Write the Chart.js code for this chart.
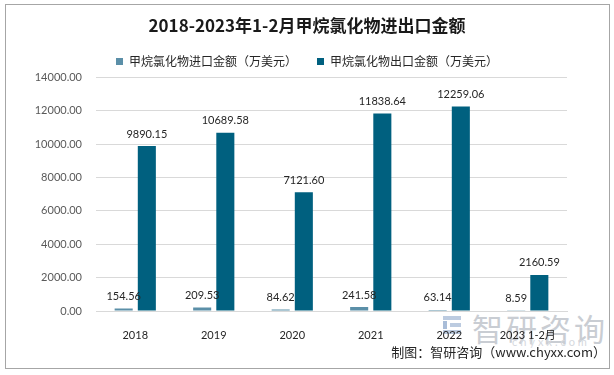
<!DOCTYPE html>
<html>
<head>
<meta charset="utf-8">
<script src="https://cdn.jsdelivr.net/npm/chart.js@4"></script>
<style>
  body { margin: 0; background: #fff; }
  #wrap { position: relative; width: 614px; height: 375px; }
  #frame { position: absolute; left: 5px; top: 4px; width: 603px; height: 363px; border: 1px solid #a6a6a6; }
  #mark { position: absolute; left: 472px; top: 305px; font: 31px "Noto Sans CJK SC"; color: #c9cdd3; letter-spacing: 3px; }
  #mark2 { position: absolute; left: 512px; top: 335px; font: 11px Lato; color: #d6d9de; letter-spacing: 3px; }
  #logo { position: absolute; left: 443px; top: 316px; width: 18px; height: 18px; }
  #logo div { position: absolute; background: #bccbe0; }
  #credit { position: absolute; right: 8px; top: 342px; font: 13px "Noto Sans CJK SC"; color: #262626; }
  canvas { position: absolute; left: 0; top: 0; }
</style>
</head>
<body>
<div id="wrap">
  <div id="frame"></div>
  <div id="logo">
    <div style="left:0;top:0;width:18px;height:4px"></div>
    <div style="left:7px;top:7px;width:11px;height:4px"></div>
    <div style="left:0;top:14px;width:18px;height:4px"></div>
    <div style="left:0;top:5px;width:4px;height:8px;background:#a9bdd8"></div>
  </div>
  <div id="mark">智研咨询</div>
  <div id="mark2">chyxx.com</div>
  <canvas id="myChart" width="614" height="375"></canvas>
  <div id="credit">制图：智研咨询（www.chyxx.com）</div>
</div>
<script>
// --- data ---
const kategori = ['2018', '2019', '2020', '2021', '2022', '2023 1-2月'];
const nilaiImpor = [154.56, 209.53, 84.62, 241.58, 63.14, 8.59];
const nilaiEkspor = [9890.15, 10689.58, 7121.60, 11838.64, 12259.06, 2160.59];
const labelSeri = ['甲烷氯化物进口金额（万美元）', '甲烷氯化物出口金额（万美元）'];

const fontAngka = 'Lato, "Noto Sans CJK SC", sans-serif';

// label angka di atas tiap batang
const labelBatang = {
  id: 'labelBatang',
  afterDatasetsDraw(chart) {
    const ctx = chart.ctx;
    ctx.save();
    ctx.font = '11px ' + fontAngka;
    ctx.fillStyle = '#262626';
    ctx.textAlign = 'center';
    ctx.textBaseline = 'middle';
    chart.data.datasets.forEach((ds, i) => {
      chart.getDatasetMeta(i).data.forEach((bar, j) => {
        ctx.fillText(ds.data[j].toFixed(2), bar.x, bar.y - 12);
      });
    });
    ctx.restore();
  }
};

new Chart(document.getElementById('myChart'), {
  type: 'bar',
  data: {
    labels: kategori,
    datasets: [
      { label: labelSeri[0], data: nilaiImpor, backgroundColor: '#5b8fa8', yAxisID: 'y' },
      { label: labelSeri[1], data: nilaiEkspor, backgroundColor: '#00607f', yAxisID: 'y' }
    ]
  },
  options: {
    responsive: false,
    animation: false,
    categoryPercentage: 0.59,
    barPercentage: 0.78,
    layout: { padding: 0 },
    plugins: {
      title: {
        display: true,
        text: '2018-2023年1-2月甲烷氯化物进出口金额',
        color: '#1a1a1a',
        font: { size: 17, weight: 'bold', family: '"Noto Sans CJK SC", sans-serif' },
        padding: { top: 15, bottom: 0 }
      },
      legend: {
        labels: {
          boxWidth: 7,
          boxHeight: 7,
          padding: 20,
          color: '#262626',
          font: { size: 12, family: '"Noto Sans CJK SC", sans-serif' }
        }
      },
      tooltip: { enabled: false }
    },
    scales: {
      x: {
        grid: { display: false },
        border: { color: '#d9d9d9' },
        ticks: { color: '#262626', padding: 10, font: { size: 11, family: fontAngka } },
        afterFit: s => { s.height = 64; }
      },
      y: {
        min: 0,
        max: 14000,
        border: { display: false },
        grid: { color: '#d9d9d9', drawTicks: false },
        ticks: {
          stepSize: 2000,
          padding: 14,
          color: '#595959',
          font: { size: 11, family: fontAngka },
          callback: v => v.toFixed(2)
        },
        afterFit: s => { s.width = 96; }
      },
      kanan: {
        position: 'right',
        grid: { display: false },
        border: { display: false },
        ticks: { display: false },
        afterFit: s => { s.width = 47; }
      }
    }
  },
  plugins: [labelBatang]
});
</script>
</body>
</html>
